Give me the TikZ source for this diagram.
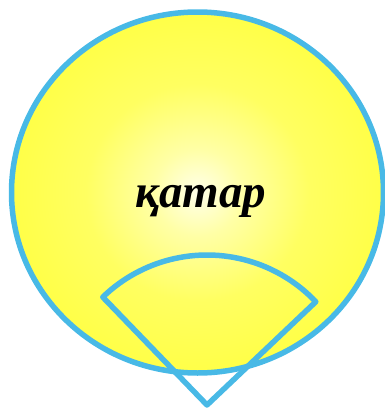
\documentclass[tikz,border=0pt]{standalone}
\usepackage{fontspec}
\setmainfont{Liberation Serif}
\pgfdeclareradialshading{sunfill}{\pgfpointorigin}{color(0bp)=(yellow!8!white); color(6bp)=(yellow!35!white); color(15bp)=(yellow!62!white); color(25bp)=(yellow!72!white); color(50bp)=(yellow!72!white)}
\definecolor{rimblue}{HTML}{48B9E6}
\tikzset{rim/.style={draw=rimblue, line width=5.5pt, line join=round}}
\begin{document}
\begin{tikzpicture}[x=1pt,y=-1pt]
\useasboundingbox (0,0) rectangle (385,408);
\begin{scope}
\clip (0,0) rectangle (385,408);
\shade[shading=sunfill, rim] (197.5,192.5) ellipse [x radius=186, y radius=180.5];
\end{scope}
\node[font=\bfseries\itshape\fontsize{47}{50}\selectfont] (word) at (201,201) {қатар};
\coordinate (apex) at (207,405);
\draw[rim] (apex) -- ++(226:150) arc[start angle=226, end angle=316.5, radius=150] -- cycle;
\end{tikzpicture}
\end{document}
